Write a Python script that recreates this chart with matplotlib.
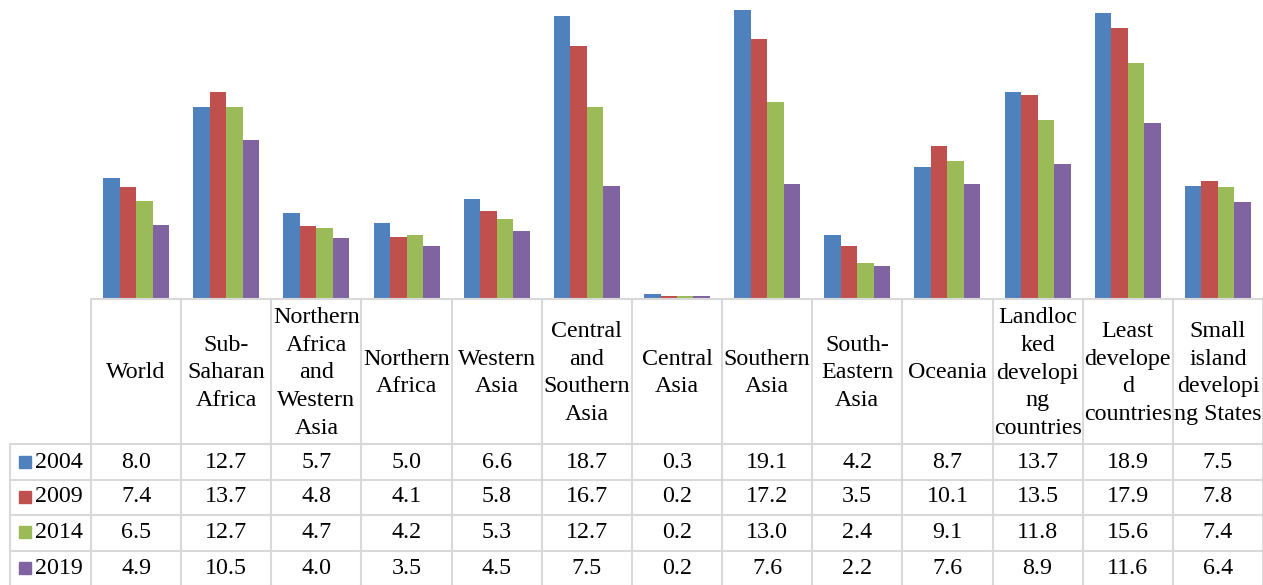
import matplotlib.pyplot as plt
import numpy as np
from matplotlib.lines import Line2D
from matplotlib.transforms import blended_transform_factory
from matplotlib import font_manager

names = sorted({f.name for f in font_manager.fontManager.ttflist})
serif = [n for n in ["Times New Roman", "Liberation Serif", "Nimbus Roman", "DejaVu Serif"] if n in names]
plt.rcParams['font.family'] = serif + ['DejaVu Sans']

categories = ["World", "Sub-\nSaharan\nAfrica", "Northern\nAfrica\nand\nWestern\nAsia",
              "Northern\nAfrica", "Western\nAsia", "Central\nand\nSouthern\nAsia",
              "Central\nAsia", "Southern\nAsia", "South-\nEastern\nAsia", "Oceania",
              "Landloc\nked\ndevelopi\nng\ncountries", "Least\ndevelope\nd\ncountries",
              "Small\nisland\ndevelopi\nng States"]
years = ["2004", "2009", "2014", "2019"]
v2004 = [8.0, 12.7, 5.7, 5.0, 6.6, 18.7, 0.3, 19.1, 4.2, 8.7, 13.7, 18.9, 7.5]
v2009 = [7.4, 13.7, 4.8, 4.1, 5.8, 16.7, 0.2, 17.2, 3.5, 10.1, 13.5, 17.9, 7.8]
v2014 = [6.5, 12.7, 4.7, 4.2, 5.3, 12.7, 0.2, 13.0, 2.4, 9.1, 11.8, 15.6, 7.4]
v2019 = [4.9, 10.5, 4.0, 3.5, 4.5, 7.5, 0.2, 7.6, 2.2, 7.6, 8.9, 11.6, 6.4]
series = [v2004, v2009, v2014, v2019]
colors = ["#4F81BD", "#C0504D", "#9BBB59", "#8064A2"]

W, H = 1263, 585
fig = plt.figure(figsize=(W / 100, H / 100), dpi=100)
base_px = 299
ax = fig.add_axes([91 / W, 1 - base_px / H, 1 - 91 / W, base_px / H])

x = np.arange(len(categories))
bw = 0.183
for k, (vals, c) in enumerate(zip(series, colors)):
    ax.bar(x + (k - 1.5) * bw, vals, width=bw, color=c, linewidth=0)

ax.set_xlim(-0.5, len(categories) - 0.5)
ax.set_ylim(0, 19.76)
ax.set_xticks([])
ax.set_yticks([])
for s in ["top", "right", "left"]:
    ax.spines[s].set_visible(False)
ax.spines["bottom"].set_color("#D9D9D9")
ax.spines["bottom"].set_linewidth(1.5)

grid = "#D9D9D9"
fs = 17.3
tr = blended_transform_factory(ax.transData, fig.transFigure)


def fy(py):
    return 1 - py / H


header_top, header_bot = 300, 444
row_lines = [444, 480, 515, 551, 586]
row_centers = [462, 497, 532, 568]

# vertical grid lines of the table
for i in range(len(categories) + 1):
    fig.add_artist(Line2D([i - 0.5, i - 0.5], [fy(header_top), fy(H)], transform=tr,
                          color=grid, lw=1.5))
# horizontal lines
for py in row_lines:
    fig.add_artist(Line2D([10 / W, 1], [fy(py), fy(py)], transform=fig.transFigure,
                          color=grid, lw=1.5))
fig.add_artist(Line2D([10 / W, 10 / W], [fy(444), fy(H)], transform=fig.transFigure,
                      color=grid, lw=1.5))

# header labels
for i, lab in enumerate(categories):
    fig.text(i, fy((header_top + header_bot) / 2 + 1), lab, transform=tr, fontsize=fs,
             ha="center", va="center", linespacing=1.42)

# data rows
for r, (yr, vals, c) in enumerate(zip(years, series, colors)):
    yc = fy(row_centers[r])
    fig.add_artist(Line2D([25 / W], [yc], transform=fig.transFigure, marker="s",
                          markersize=8.5, color=c, linestyle="none"))
    fig.text(35 / W, yc, yr, fontsize=fs, ha="left", va="center")
    for i, v in enumerate(vals):
        fig.text(i, yc, f"{v:.1f}", transform=tr, fontsize=fs, ha="center", va="center")

fig.savefig("out.png", dpi=100)
